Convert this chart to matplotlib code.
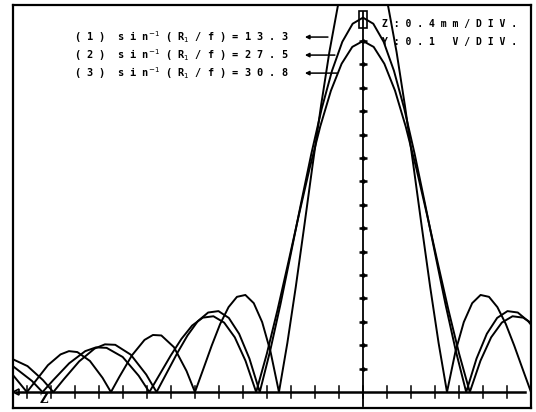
import matplotlib
matplotlib.use("Agg")
import matplotlib.pyplot as plt
from matplotlib.patches import Rectangle

# horizontal: Z in divisions (0.4 mm/DIV), vertical: Y in divisions (0.1 V/DIV)
# values, centre of the pattern at z = 0

# (1) sin^-1(R1/f) = 13.3
curve1_z = [-14.6, -14.0, -13.125, -12.6, -12.25, -11.9, -11.375, -10.85, -10.5,
            -10.15, -9.625, -9.1, -8.75, -8.4, -7.875, -7.35, -7.0,
            -6.65, -6.3, -5.95, -5.6, -5.25, -4.9, -4.55, -4.2, -3.85, -3.5,
            -3.15, -2.8, -2.45, -2.1, -1.75, -1.4, -1.05, -0.7, -0.35, 0.0,
            0.35, 0.7, 1.05, 1.4, 1.75, 2.1, 2.45, 2.8, 3.15, 3.5,
            3.85, 4.2, 4.55, 4.9, 5.25, 5.6, 5.95, 6.3, 6.65, 7.0]
curve1_y = [0.75, 0.0, 1.15, 1.61, 1.75, 1.71, 1.33, 0.61, 0.0,
            0.65, 1.57, 2.23, 2.44, 2.42, 1.92, 0.90, 0.0,
            0.99, 1.99, 2.91, 3.63, 4.07, 4.15, 3.80, 2.99, 1.72, 0.0,
            2.10, 4.49, 7.06, 9.69, 12.22, 14.53, 16.48, 17.96, 18.89, 19.2,
            18.89, 17.96, 16.48, 14.53, 12.22, 9.69, 7.06, 4.49, 2.10, 0.0,
            1.72, 2.99, 3.80, 4.15, 4.07, 3.63, 2.91, 1.99, 0.99, 0.0]

# (2) sin^-1(R1/f) = 27.5
curve2_z = [-14.62, -13.975, -13.33, -12.9, -12.47, -11.825, -11.18, -10.75, -10.32,
            -9.675, -9.03, -8.6, -8.17, -7.74, -7.31, -6.88, -6.45, -6.02, -5.59,
            -5.16, -4.73, -4.3, -3.87, -3.44, -3.01, -2.58, -2.15, -1.72, -1.29,
            -0.86, -0.43, 0.0, 0.43, 0.86, 1.29, 1.72, 2.15, 2.58, 3.01, 3.44,
            3.87, 4.3, 4.73, 5.16, 5.59, 6.02, 6.45, 6.88, 7.0]
curve2_y = [1.42, 1.11, 0.51, 0.0, 0.54, 1.31, 1.86, 2.04, 2.02,
            1.60, 0.75, 0.0, 0.83, 1.66, 2.42, 3.03, 3.40, 3.46, 3.17,
            2.49, 1.43, 0.0, 1.75, 3.74, 5.89, 8.07, 10.19, 12.11, 13.73,
            14.97, 15.74, 16.0, 15.74, 14.97, 13.73, 12.11, 10.19, 8.07, 5.89, 3.74,
            1.75, 0.0, 1.43, 2.49, 3.17, 3.46, 3.40, 3.03, 2.88]

# (3) sin^-1(R1/f) = 30.8
curve3_z = [-14.6, -13.795, -13.35, -12.905, -12.24, -11.57, -11.125, -10.68,
            -10.01, -9.345, -8.9, -8.455, -8.01, -7.565, -7.12, -6.675, -6.23,
            -5.785, -5.34, -4.895, -4.45, -4.005, -3.56, -3.115, -2.67, -2.225,
            -1.78, -1.335, -0.89, -0.445, 0.0, 0.445, 0.89, 1.335, 1.78, 2.225,
            2.67, 3.115, 3.56, 4.005, 4.45, 4.895, 5.34, 5.785, 6.23, 6.675, 7.0]
curve3_y = [1.12, 0.48, 0.0, 0.51, 1.23, 1.75, 1.91, 1.89,
            1.50, 0.70, 0.0, 0.78, 1.56, 2.27, 2.84, 3.18, 3.24,
            2.97, 2.34, 1.34, 0.0, 1.64, 3.51, 5.52, 7.57, 9.55,
            11.35, 12.88, 14.03, 14.75, 15.0, 14.75, 14.03, 12.88, 11.35, 9.55,
            7.57, 5.52, 3.51, 1.64, 0.0, 1.34, 2.34, 2.97, 3.24, 3.18, 2.96]

labels = ["( 1 )  s i n$^{-1}$ ( R$_{1}$ / f ) = 1 3 . 3",
          "( 2 )  s i n$^{-1}$ ( R$_{1}$ / f ) = 2 7 . 5",
          "( 3 )  s i n$^{-1}$ ( R$_{1}$ / f ) = 3 0 . 8"]
label_y = [15.17, 14.40, 13.63]
arrow_tail_z = [-1.46, -1.17, -1.08]
scale_text = ["Z : 0 . 4 m m / D I V .", "Y : 0 . 1   V / D I V ."]

z_ticks = list(range(-14, 7))
y_ticks = list(range(1, 16))

fig = plt.figure(figsize=(5.36, 4.12), dpi=100)
ax = fig.add_axes([13 / 536, 4 / 412, 518 / 536, 403 / 412])
ax.set_xlim(-14.58, 7.0)
ax.set_ylim(-0.68, 16.54)
ax.set_xticks([])
ax.set_yticks([])
for s in ax.spines.values():
    s.set_linewidth(1.6)

lw = 1.4
ax.plot(curve1_z, curve1_y, color="black", lw=lw)
ax.plot(curve2_z, curve2_y, color="black", lw=lw)
ax.plot(curve3_z, curve3_y, color="black", lw=lw)

# axes of the recorder
ax.plot([-14.45, 6.75], [0, 0], color="black", lw=1.8)
ax.plot([-14.45], [0], marker="<", ms=4, mfc="none", mec="black", mew=1.2)
for z in z_ticks:
    ax.plot([z, z], [-0.25, 0.25], color="black", lw=1.1)
ax.plot([0, 0], [-0.6, 16.25], color="black", lw=1.3)
ax.plot([0] * len(y_ticks), y_ticks, ls="none", marker="_", ms=6, mew=1.8, color="black")
ax.plot([0] * len(y_ticks), y_ticks, ls="none", marker="o", ms=2.2, color="black")
ax.add_patch(Rectangle((-0.17, 15.55), 0.34, 0.75, fill=False, ec="black", lw=1.2))

mono = dict(family="DejaVu Sans Mono", weight="bold", fontsize=7.4)
for txt, y, tail in zip(labels, label_y, arrow_tail_z):
    ax.text(-12.05, y, txt, ha="left", va="center", **mono)
    ax.annotate("", xy=(-2.42, y), xytext=(tail, y),
                arrowprops=dict(arrowstyle="-|>", color="black", lw=1.1,
                                mutation_scale=6, shrinkA=0, shrinkB=0))

ax.text(0.8, 15.72, scale_text[0], ha="left", va="center", **dict(mono, fontsize=7.0))
ax.text(0.8, 14.95, scale_text[1], ha="left", va="center", **dict(mono, fontsize=7.0))
ax.text(-13.3, -0.33, "Z", ha="center", va="center", family="DejaVu Serif",
        weight="bold", fontsize=8.5)

plt.savefig("out.png", dpi=100)
plt.close()
